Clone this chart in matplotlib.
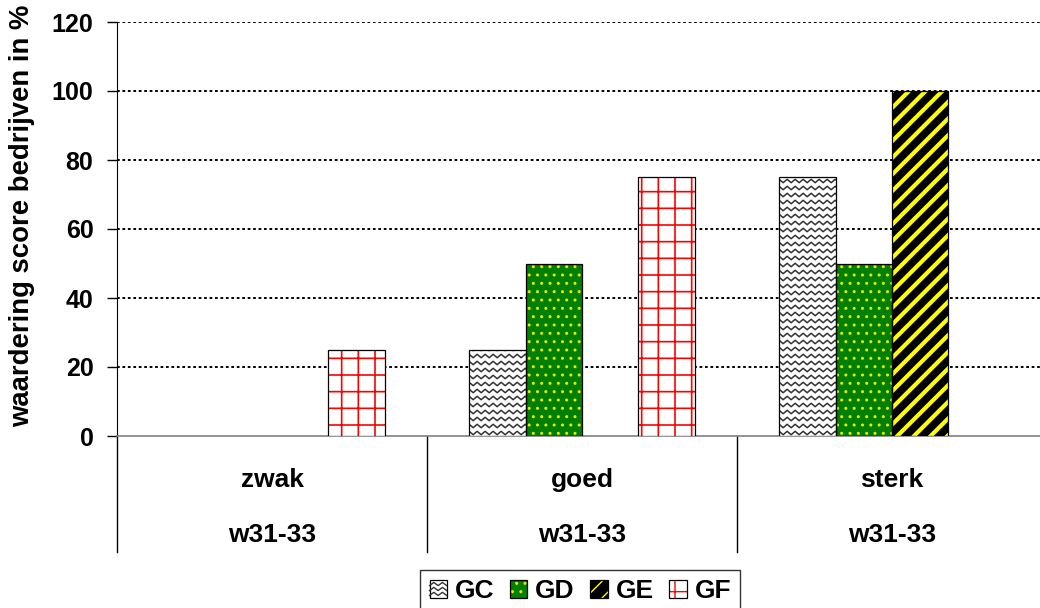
import numpy as np
import matplotlib
matplotlib.use("Agg")
import matplotlib.pyplot as plt
from matplotlib.legend_handler import HandlerTuple, HandlerBase
from matplotlib.patches import Rectangle
from matplotlib.lines import Line2D
from matplotlib.transforms import blended_transform_factory

# data
categories = ["zwak", "goed", "sterk"]
sub_labels = ["w31-33", "w31-33", "w31-33"]
series = ["GC", "GD", "GE", "GF"]
gc = [0, 25, 75]
gd = [0, 50, 50]
ge = [0, 0, 100]
gf = [25, 75, 0]
yticks = [0, 20, 40, 60, 80, 100, 120]

plt.rcParams['font.family'] = ['Liberation Sans', 'DejaVu Sans']
plt.rcParams['font.weight'] = 'bold'


class HandlerWave(HandlerBase):
    """legend key with the wavy fill used for GC"""
    def create_artists(self, legend, orig_handle, xdescent, ydescent,
                       width, height, fontsize, trans):
        x0, y0 = -xdescent, -ydescent
        rect = Rectangle((x0, y0), width, height, facecolor="white",
                         edgecolor="black", lw=0.9, transform=trans)
        arts = [rect]
        xs = np.linspace(x0, x0 + width, 5)
        for k in range(3):
            yy = y0 + height * (0.22 + 0.28 * k)
            ys = yy + np.where(np.arange(5) % 2 == 0, -1, 1) * height * 0.09
            arts.append(Line2D(xs, ys, color="#333333", lw=1.0, transform=trans))
        return arts


fig = plt.figure(figsize=(10.4, 6.08), dpi=100)
ax = fig.add_axes([117 / 1040, 1 - 436 / 608, 930 / 1040, 414 / 608])
ax.set_xlim(-0.5, 2.5)
ax.set_ylim(0, 120)

x = np.arange(len(categories))
w = 0.182
offsets = [-1.5 * w, -0.5 * w, 0.5 * w, 1.5 * w]

# style per series: face, hatch, hatch colour, hatch linewidth
styles = {
    "GC": dict(face="white", hatch=None, hcolor="black", hlw=1.0),
    "GD": dict(face="#008000", hatch="..", hcolor="#e8e800", hlw=1.0),
    "GE": dict(face="black", hatch="//", hcolor="#ffff00", hlw=3.0),
    "GF": dict(face="white", hatch="+", hcolor="#ff0000", hlw=1.2),
}
values = {"GC": gc, "GD": gd, "GE": ge, "GF": gf}

handles = []
bar_sets = {}
for i, name in enumerate(series):
    st = styles[name]
    with plt.rc_context({'hatch.color': st["hcolor"], 'hatch.linewidth': st["hlw"]}):
        fill = ax.bar(x + offsets[i], values[name], w, color=st["face"],
                      edgecolor=None, linewidth=0, hatch=st["hatch"], zorder=3)
    for p in fill:
        if hasattr(p, "set_hatch_linewidth"):
            p.set_hatch_linewidth(st["hlw"])
    outline = ax.bar(x + offsets[i], values[name], w, fill=False,
                     edgecolor="black", linewidth=0.9, zorder=4)
    for v, p, q in zip(values[name], fill, outline):
        if v == 0:
            p.set_visible(False)
            q.set_visible(False)
    bar_sets[name] = fill
    k = 1 if values[name][1] else 2
    handles.append((fill[k], outline[k]))

# wavy pattern for GC bars, clipped to the bar
bb = ax.get_window_extent()
xpp = 3.0 / bb.width
ypp = 120.0 / bb.height
for p in bar_sets["GC"]:
    h = p.get_height()
    if h <= 0:
        continue
    x0, bw = p.get_x(), p.get_width()
    xs = np.arange(x0 - 4 * xpp, x0 + bw + 4 * xpp, 4 * xpp)
    for yy in np.arange(3 * ypp, h + 7 * ypp, 7 * ypp):
        ys = yy + np.where(np.arange(len(xs)) % 2 == 0, -1.7, 1.7) * ypp
        ln, = ax.plot(xs, ys, color="#333333", lw=1.1, zorder=3.5)
        ln.set_clip_path(p)

# grid
for yv in yticks[1:]:
    ax.axhline(yv, color="black", lw=1.4, dashes=(1.4, 1.4), zorder=1)

ax.spines['top'].set_visible(False)
ax.spines['right'].set_visible(False)
ax.spines['left'].set_color("black")
ax.spines['bottom'].set_color("#808080")
ax.spines['bottom'].set_linewidth(1.2)
ax.set_yticks(yticks)
ax.tick_params(axis='y', length=7, width=1, pad=10, labelsize=18)
ax.set_xticks([])

# category separators and labels below the axis
trans = blended_transform_factory(ax.transData, ax.transAxes)
for xb in np.arange(-0.5, len(categories) + 0.5, 1.0):
    ax.plot([xb, xb], [0, -0.28], color="black", lw=1, transform=trans, clip_on=False)
for xi, c, s in zip(x, categories, sub_labels):
    ax.text(xi, -0.106, c, transform=trans, ha="center", va="center", fontsize=19, fontweight="bold")
    ax.text(xi, -0.239, s, transform=trans, ha="center", va="center", fontsize=19, fontweight="bold")

fig.text(0.021, 1 - 216 / 608, "waardering score bedrijven in %", rotation=90,
         ha="center", va="center", fontsize=19.8, fontweight="bold")

hmap = {tuple: HandlerTuple(ndivide=1), handles[0]: HandlerWave()}
leg = fig.legend(handles, series, handler_map=hmap,
                 loc="upper center", bbox_to_anchor=(0.558, 1 - 570 / 608), ncol=4,
                 prop={'weight': 'bold', 'size': 19}, frameon=True, fancybox=False,
                 edgecolor="black", handlelength=0.65, handleheight=0.65,
                 handletextpad=0.3, columnspacing=0.6, borderpad=0.35,
                 borderaxespad=0)
leg.get_frame().set_linewidth(1)

fig.savefig("out.png", dpi=100)
